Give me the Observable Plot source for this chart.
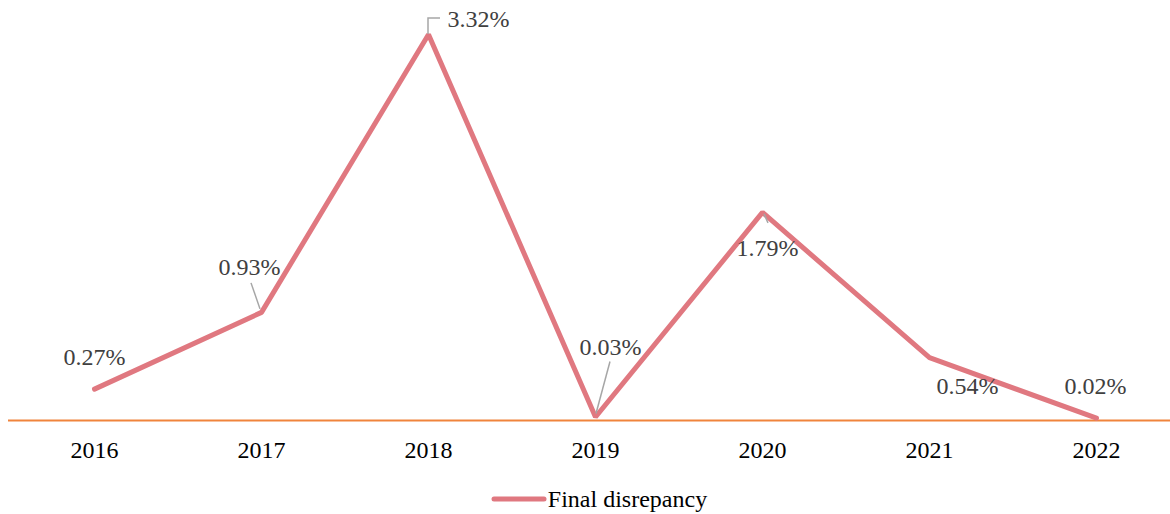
<!DOCTYPE html>
<html>
<head>
<meta charset="utf-8">
<script src="https://cdn.jsdelivr.net/npm/d3@7"></script>
<script src="https://cdn.jsdelivr.net/npm/@observablehq/plot@0.6"></script>
<style>
  html, body { margin: 0; padding: 0; background: #fff; overflow: hidden; }
  #chart svg { display: block; }
  #legend { box-sizing: border-box; height: 44px; padding-top: 14px; display: flex; align-items: center; justify-content: center; padding-left: 28px; font-family: "Liberation Serif", "Times New Roman", serif; font-size: 24px; color: #000; }
  #legend svg { display: block; margin-right: 1px; }
</style>
</head>
<body>
<div id="chart"></div>
<div id="legend"></div>
<script>
// Data
const years = ["2016", "2017", "2018", "2019", "2020", "2021", "2022"];
const disrepancy = [0.27, 0.93, 3.32, 0.03, 1.79, 0.54, 0.02];
const labels = ["0.27%", "0.93%", "3.32%", "0.03%", "1.79%", "0.54%", "0.02%"];
const seriesName = "Final disrepancy";

const data = years.map((y, i) => ({year: y, value: disrepancy[i], label: labels[i]}));

// Layout: pixel offsets of each data label from its point, and leader lines
const labelOffsets = [
  {dx: 0, dy: -32},
  {dx: -12, dy: -45},
  {dx: 50, dy: -15},
  {dx: 15, dy: -70},
  {dx: 5, dy: 36},
  {dx: 38, dy: 29},
  {dx: -1, dy: -32}
];
const leaders = [
  null,
  [[-1, -3], [-10, -29]],
  [[0, 0], [0, -16], [12, -16]],
  [[1, -3], [15, -55]],
  [[2, 2], [6, 11]],
  null,
  null
];

const lineColor = "#e07880";
const font = "'Liberation Serif', 'Times New Roman', serif";

const textMarks = data.map((d, i) => Plot.text([d], {
  x: "year", y: "value", text: "label",
  dx: labelOffsets[i].dx, dy: labelOffsets[i].dy,
  fill: "#404040", fontSize: 24, fontFamily: font
}));

const chart = Plot.plot({
  width: 1170,
  height: 470,
  marginLeft: 8,
  marginRight: 0,
  marginTop: 0,
  marginBottom: 50,
  style: {fontFamily: font, fontSize: "24px", color: "#000", background: "#fff"},
  x: {type: "point", domain: years, range: [8, 1182], padding: 0.5, label: null},
  y: {domain: [0, 3.32], range: [420, 34], axis: null},
  marks: [
    Plot.ruleY([0], {stroke: "#f0843c", strokeWidth: 2}),
    Plot.axisX({tickSize: 0, tickPadding: 20, fontSize: 24, fill: "#000", label: null}),
    Plot.line(data, {x: "year", y: "value", stroke: lineColor, strokeWidth: 5, strokeLinecap: "round", strokeLinejoin: "miter"}),
    ...textMarks
  ]
});

document.getElementById("chart").appendChild(chart);

// Leader lines (gray) positioned via the plot's own scales
const xs = chart.scale("x"), ys = chart.scale("y");
const svg = d3.select(chart);
const g = svg.append("g");
data.forEach((d, i) => {
  const pts = leaders[i];
  if (!pts) return;
  const px = xs.apply(d.year), py = ys.apply(d.value);
  g.append("path")
    .attr("d", d3.line()(pts.map(([a, b]) => [px + a, py + b])))
    .attr("fill", "none")
    .attr("stroke", "#a6a6a6")
    .attr("stroke-width", 1.5);
});

// Legend
const leg = document.getElementById("legend");
const ls = d3.create("svg").attr("width", 56).attr("height", 12);
ls.append("line").attr("x1", 3).attr("x2", 53).attr("y1", 6).attr("y2", 6)
  .attr("stroke", lineColor).attr("stroke-width", 5).attr("stroke-linecap", "round");
leg.appendChild(ls.node());
const sp = document.createElement("span");
sp.textContent = seriesName;
leg.appendChild(sp);
</script>
</body>
</html>
